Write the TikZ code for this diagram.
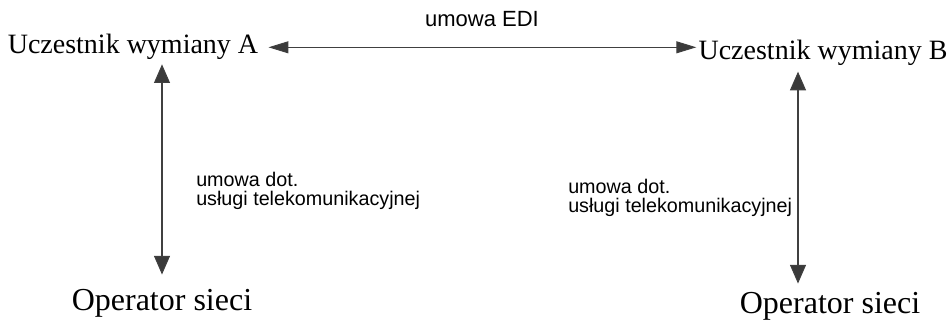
\documentclass[tikz,border=0pt]{standalone}
\usepackage{fontspec}
\setmainfont{Liberation Serif}
\setsansfont{Liberation Sans}
\usepackage{xcolor}
\usepackage{tikz}
\usetikzlibrary{positioning, arrows.meta}
\definecolor{headgray}{HTML}{3A3A3A}
\definecolor{linegray}{HTML}{404040}

\tikzset{
  party/.style={font=\fontsize{21}{25}\selectfont, inner sep=0pt, anchor=base},
  operator/.style={party, font=\fontsize{24}{28}\selectfont},
  note/.style={font=\sffamily\fontsize{14.8}{13.6}\selectfont, inner sep=0pt,
               align=left, anchor=base west},
  edilink/.style={draw=linegray, line width=0.8pt,
    {Triangle[length=15pt, width=9pt, fill=headgray]}-{Triangle[length=15pt, width=9pt, fill=headgray]}},
  telelink/.style={draw=linegray, line width=0.8pt,
    {Triangle[length=14pt, width=12pt, fill=headgray]}-{Triangle[length=14pt, width=12pt, fill=headgray]}}
}

\begin{document}
\begin{tikzpicture}[x=0.75pt, y=-0.75pt]
  \useasboundingbox (0,0) rectangle (950,321);

  \node[party] (uczA) at (133,54) {Uczestnik wymiany A};
  \node[party] (uczB) at (823,60) {Uczestnik wymiany B};
  \node[operator] (opA) at (162,310) {Operator sieci};
  \node[operator] (opB) at (830,313) {Operator sieci};

  \node[note, font=\sffamily\fontsize{16.5}{18}\selectfont, anchor=base] (edi) at (482,27) {umowa EDI};
  \node[note] (umA) at (196,205) {umowa dot.\\usługi telekomunikacyjnej};
  \node[note] (umB) at (568,212) {umowa dot.\\usługi telekomunikacyjnej};

  \draw[edilink, shorten >=1.5pt] (uczA.east) ++(10,0) coordinate (ediL) -- (ediL -| uczB.west);

  \draw[telelink, shorten <=3pt, shorten >=10.5pt] (opA.north |- uczA.south) -- (opA.north);
  \draw[telelink, shorten <=4pt, shorten >=6pt]
    ([xshift=-24pt]opB.north |- uczB.south) -- ([xshift=-24pt]opB.north);
\end{tikzpicture}
\end{document}
